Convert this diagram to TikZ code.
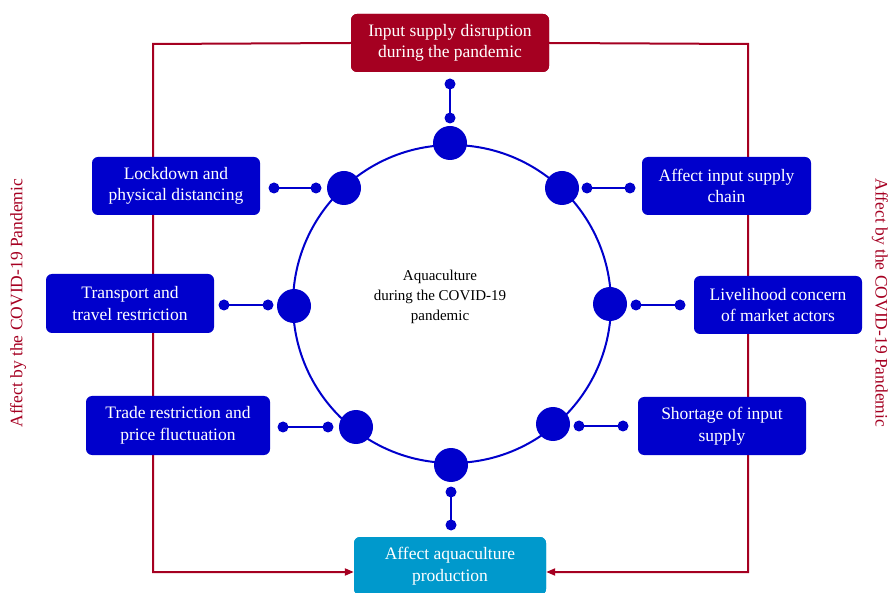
\documentclass[tikz,border=0pt]{standalone}
\usepackage{fontspec}
\setmainfont{Liberation Serif}
\usetikzlibrary{arrows.meta}
\definecolor{dred}{HTML}{A50021}
\definecolor{dblue}{HTML}{0000CC}
\definecolor{cyanb}{HTML}{0099CC}
\begin{document}
\begin{tikzpicture}[x=1pt,y=-1pt,
  box/.style={rounded corners=6pt, fill=dblue, text=white, align=center,
    font=\fontsize{17.5}{21.5}\selectfont, inner sep=0pt},
  hub/.style={circle, fill=dblue, minimum size=34pt, inner sep=0pt},
  sdot/.style={circle, fill=dblue, minimum size=11pt, inner sep=0pt},
  link/.style={draw=dblue, line width=2.5pt},
  redline/.style={draw=dred, line width=2pt},
  side/.style={text=dred, font=\fontsize{17.5}{20}\selectfont}]
\useasboundingbox (0,0) rectangle (889,593);
% red frame lines (behind boxes)
\coordinate (tl) at (153,44);
\coordinate (bl) at (153,572);
\coordinate (tr) at (748,44);
\coordinate (br) at (748,572);
% boxes
\node[box, fill=dred, minimum width=198pt, minimum height=58pt] (top) at (450,43) {Input supply disruption\\during the pandemic};
\node[box, fill=cyanb, minimum width=192pt, minimum height=58pt] (prod) at (450,566) {Affect aquaculture\\production};
\draw[redline, -{Triangle[length=9pt,width=7pt]}] (top.west) -- (tl) -- (bl) -- (prod.west |- bl);
\draw[redline, -{Triangle[length=9pt,width=7pt]}] (top.east) -- (tr) -- (br) -- (prod.east |- br);
\node[box, fill=dred, minimum width=198pt, minimum height=58pt] at (top) {Input supply disruption\\during the pandemic};
\node[box, fill=cyanb, minimum width=192pt, minimum height=58pt] at (prod) {Affect aquaculture\\production};
\node[box, minimum width=168pt, minimum height=58pt] (lock) at (176,186) {Lockdown and\\physical distancing};
\node[box, minimum width=168pt, minimum height=59pt] (trans) at (130,303.5) {Transport and\\travel restriction};
\node[box, minimum width=184pt, minimum height=59pt] (trade) at (178,425.5) {Trade restriction and\\price fluctuation};
\node[box, minimum width=169pt, minimum height=58pt] (ainput) at (726.5,186) {Affect input supply\\chain};
\node[box, minimum width=168pt, minimum height=58pt] (livel) at (778,305) {Livelihood concern\\of market actors};
\node[box, minimum width=168pt, minimum height=58pt] (short) at (722,426) {Shortage of input\\supply};
% side labels
\node[side, rotate=90] (sl) at (18,303) {Affect by the COVID-19 Pandemic};
\node[side, rotate=-90] (sr) at (880,303) {Affect by the COVID-19 Pandemic};
% central circle
\node[draw=dblue, line width=2pt, circle, minimum size=318pt, inner sep=0pt] (ring) at (452,304) {};
\node[align=center, font=\fontsize{15}{20}\selectfont] (center) at (440,297) {Aquaculture\\during the COVID-19\\pandemic};
% hubs
\node[hub] (h1) at (450,143) {};
\node[hub] (h2) at (562,188) {};
\node[hub] (h3) at (610,304) {};
\node[hub] (h4) at (553,424) {};
\node[hub] (h5) at (451,465) {};
\node[hub] (h6) at (356,427) {};
\node[hub] (h7) at (294,306) {};
\node[hub] (h8) at (344,188) {};
% small connectors
\node[sdot] (a1) at (450,84) {};  \node[sdot] (b1) at (450,118) {};
\node[sdot] (a2) at (630,188) {}; \node[sdot] (b2) at (587,188) {};
\node[sdot] (a3) at (680,305) {}; \node[sdot] (b3) at (636,305) {};
\node[sdot] (a4) at (623,426) {}; \node[sdot] (b4) at (579,426) {};
\node[sdot] (a5) at (451,525) {}; \node[sdot] (b5) at (451,492) {};
\node[sdot] (a6) at (283,427) {}; \node[sdot] (b6) at (328,427) {};
\node[sdot] (a7) at (224,305) {}; \node[sdot] (b7) at (268,305) {};
\node[sdot] (a8) at (274,188) {}; \node[sdot] (b8) at (316,188) {};
\foreach \i in {1,...,8} {\draw[link] (a\i.center) -- (b\i.center);}
\end{tikzpicture}
\end{document}
